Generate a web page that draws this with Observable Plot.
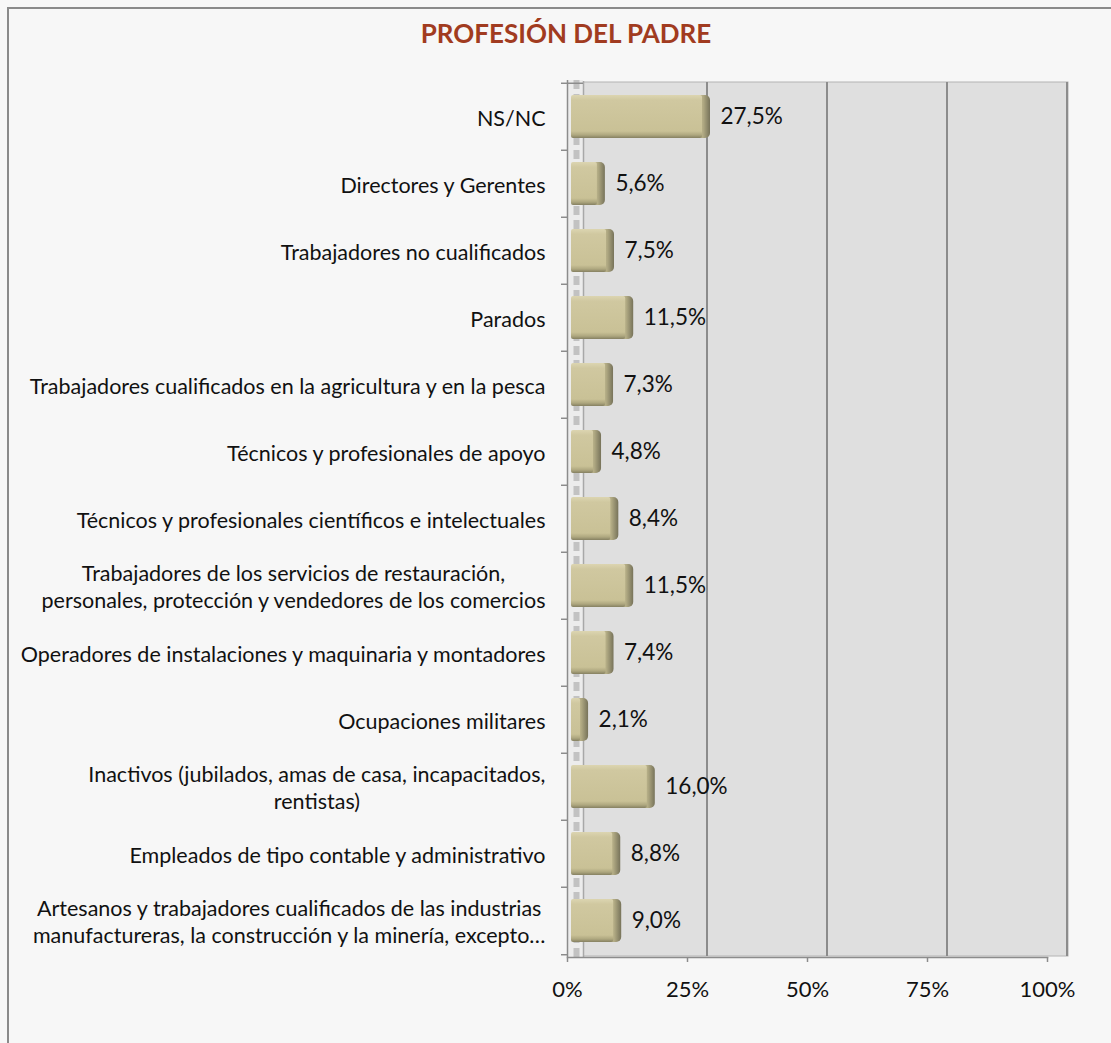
<!DOCTYPE html>
<html>
<head>
<meta charset="utf-8">
<script src="https://cdn.jsdelivr.net/npm/d3@7"></script>
<script src="https://cdn.jsdelivr.net/npm/@observablehq/plot@0.6"></script>
<style>
  html, body { margin: 0; padding: 0; background: #f7f7f7; overflow: hidden; }
  #wrap { position: relative; width: 1111px; height: 1043px; background: #f7f7f7; }
  #frame { position: absolute; left: 7px; top: 7px; width: 1200px; height: 1100px;
           border-left: 2px solid #8a8a8a; border-top: 2px solid #8a8a8a; box-sizing: border-box; }
  #title { position: absolute; left: 0; top: 17px; width: 1132px; text-align: center;
           font-family: Lato, "Open Sans", sans-serif; font-weight: bold; font-size: 26px; color: #a13b20; }
  #chart { position: absolute; left: 0; top: 60px; }
</style>
</head>
<body>
<div id="wrap">
  <div id="frame"></div>
  <div id="title">PROFESIÓN DEL PADRE</div>
  <div id="chart"></div>
</div>
<script>
const categories = [
  "NS/NC",
  "Directores y Gerentes",
  "Trabajadores no cualificados",
  "Parados",
  "Trabajadores cualificados en la agricultura y en la pesca",
  "Técnicos y profesionales de apoyo",
  "Técnicos y profesionales científicos e intelectuales",
  "Trabajadores de los servicios de restauración,\npersonales, protección y vendedores de los comercios",
  "Operadores de instalaciones y maquinaria y montadores",
  "Ocupaciones militares",
  "Inactivos (jubilados, amas de casa, incapacitados,\nrentistas)",
  "Empleados de tipo contable y administrativo",
  "Artesanos y trabajadores cualificados de las industrias\nmanufactureras, la construcción y la minería, excepto…"
];
const values = [27.5, 5.6, 7.5, 11.5, 7.3, 4.8, 8.4, 11.5, 7.4, 2.1, 16.0, 8.8, 9.0];
const xTicks = [0, 25, 50, 75, 100];
const gridTicks = [25, 50, 75, 100];

const data = categories.map((c, i) => ({cat: c, value: values[i]}));
const fmt = v => v.toFixed(1).replace(".", ",") + "%";

const W = 1111, H = 983, mt = 20, mb = 86;
const step = (H - mt - mb) / categories.length;
const last = categories[categories.length - 1];

const svg = Plot.plot({
  width: W,
  height: H,
  marginLeft: 567,
  marginRight: 64,
  marginTop: mt,
  marginBottom: mb,
  style: {background: "transparent", fontFamily: "Lato, 'Open Sans', sans-serif", color: "#111"},
  x: {domain: [0, 100], label: null},
  y: {domain: categories, paddingInner: 0.36, paddingOuter: 0.18, label: null},
  marks: [
    // back wall
    Plot.rect([0], {x1: 0, x2: 100, insetLeft: 16, insetRight: -21, insetTop: 2, insetBottom: 1,
      fill: "#dfdfdf", stroke: "#b4b4b4", strokeWidth: 1}),
    // side floor strip
    Plot.rect([0], {x1: 0, x2: 0, insetRight: -16, insetTop: 0, fill: "#ececec"}),
    Plot.ruleX([0], {dx: 9, stroke: "#c2c2c2", strokeWidth: 6, strokeDasharray: "9,5"}),
    Plot.ruleX([0], {dx: 16, stroke: "#a8a8a8", strokeWidth: 1.5, insetTop: 1}),
    // gridlines on wall
    Plot.ruleX(gridTicks, {dx: 19.5, stroke: "#8c8c8c", strokeWidth: 2, insetTop: 2, insetBottom: 1}),
    // y axis line and boundary ticks
    Plot.ruleX([0], {stroke: "#8c8c8c", strokeWidth: 1.5}),
    Plot.ruleY([categories[0]], {x1: 0, x2: 0, insetLeft: -6, insetRight: -16, dy: -step / 2, stroke: "#8c8c8c", strokeWidth: 1.5}),
    Plot.ruleY(categories.slice(1), {x1: 0, x2: 0, insetLeft: -6, dy: -step / 2, stroke: "#8c8c8c", strokeWidth: 1.5}),
    Plot.ruleY([last], {x1: 0, x2: 0, insetLeft: -6, dy: step / 2, stroke: "#8c8c8c", strokeWidth: 1.5}),
    // bottom axis line
    Plot.frame({anchor: "bottom", stroke: "#8c8c8c", strokeWidth: 1.5}),
    // bar side cap (3D)
    Plot.barX(data, {x1: "value", x2: "value", y: "cat", insetLeft: -7, insetRight: -7, dx: 4,
      fill: "url(#barSide)", rx: 5}),
    // bar face
    Plot.barX(data, {x1: 0, x2: "value", y: "cat", dx: 4, insetRight: 1, fill: "url(#barFace)", rx: 2}),
    // value labels
    Plot.text(data, {x: "value", y: "cat", text: d => fmt(d.value), dx: 21, textAnchor: "start",
      fontSize: 22.5, fill: "#111"}),
    // axes
    Plot.axisX(xTicks, {tickFormat: d => d + "%", tickSize: 5, tickPadding: 19, fontSize: 22,
      stroke: "#8c8c8c", strokeWidth: 1.5, fill: "#111", label: null}),
    Plot.axisY({tickSize: 0, tickPadding: 22, fontSize: 21.5, lineHeight: 1.26, lineWidth: Infinity,
      fill: "#111", dy: 0, label: null})
  ]
});

// gradient definitions for the bevelled bars
const ns = "http://www.w3.org/2000/svg";
const defs = document.createElementNS(ns, "defs");
defs.innerHTML = `
  <linearGradient id="barFace" x1="0" y1="0" x2="0" y2="1">
    <stop offset="0" stop-color="#dcd5b1"/>
    <stop offset="0.12" stop-color="#d0c8a0"/>
    <stop offset="0.84" stop-color="#c9c196"/>
    <stop offset="0.93" stop-color="#aea77f"/>
    <stop offset="1" stop-color="#858061"/>
  </linearGradient>
  <linearGradient id="barSide" x1="0" y1="0" x2="1" y2="0">
    <stop offset="0" stop-color="#cbc399"/>
    <stop offset="0.5" stop-color="#b2ab84"/>
    <stop offset="1" stop-color="#77735a"/>
  </linearGradient>`;
svg.insertBefore(defs, svg.firstChild);

document.getElementById("chart").appendChild(svg);

// center multi-line category labels relative to each other, keeping the block right-aligned
svg.querySelectorAll('g[aria-label="y-axis tick label"] text').forEach(t => {
  const spans = t.querySelectorAll("tspan");
  if (spans.length > 1) {
    const w = t.getBBox().width;
    t.setAttribute("text-anchor", "middle");
    spans.forEach(s => s.setAttribute("x", -w / 2));
  }
});
</script>
</body>
</html>
